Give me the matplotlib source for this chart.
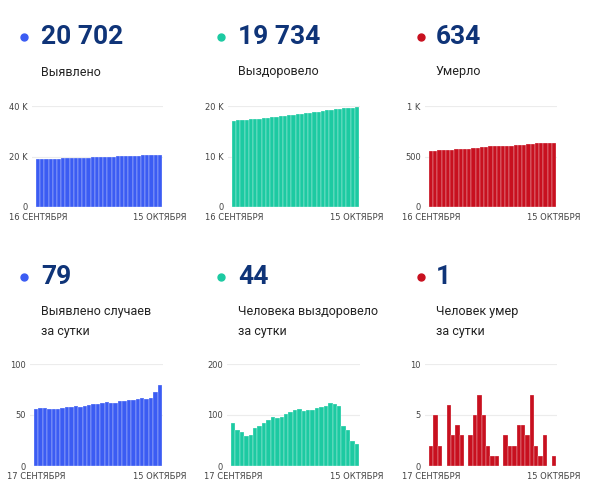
import matplotlib
matplotlib.use("Agg")
import matplotlib.pyplot as plt
from matplotlib.lines import Line2D

W, H = 592, 496

# cumulative, 16 Sep .. 15 Oct
cum_cases = [18908, 18964, 19021, 19078, 19134, 19190, 19246, 19303, 19361, 19419,
             19478, 19536, 19595, 19655, 19716, 19777, 19839, 19902, 19964, 20026,
             20090, 20154, 20219, 20284, 20350, 20417, 20483, 20550, 20623, 20702]
cum_recovered = [17072, 17157, 17227, 17293, 17351, 17412, 17487, 17566, 17650, 17740,
                 17836, 17930, 18027, 18129, 18235, 18344, 18455, 18563, 18673, 18783,
                 18896, 19011, 19129, 19252, 19373, 19490, 19569, 19640, 19690, 19734]
cum_deaths = [553, 555, 560, 562, 562, 568, 571, 575, 578, 578,
              581, 586, 593, 598, 600, 601, 602, 602, 605, 607,
              609, 613, 617, 620, 627, 629, 630, 633, 633, 634]

# daily, 17 Sep .. 15 Oct
day_cases = [56, 57, 57, 56, 56, 56, 57, 58, 58, 59, 58, 59, 60, 61, 61,
             62, 63, 62, 62, 64, 64, 65, 65, 66, 67, 66, 67, 73, 79]
day_recovered = [85, 70, 66, 58, 61, 75, 79, 84, 90, 96, 94, 97, 102, 106, 109,
                 111, 108, 110, 110, 113, 115, 118, 123, 121, 117, 79, 71, 50, 44]
day_deaths = [2, 5, 2, 0, 6, 3, 4, 3, 0, 3, 5, 7, 5, 2, 1,
              1, 0, 3, 2, 2, 4, 4, 3, 7, 2, 1, 3, 0, 1]

big_numbers = ["20 702", "19 734", "634", "79", "44", "1"]
captions = ["Выявлено", "Выздоровело", "Умерло",
            "Выявлено случаев\nза сутки", "Человека выздоровело\nза сутки", "Человек умер\nза сутки"]
cum_dates = ["16 СЕНТЯБРЯ", "15 ОКТЯБРЯ"]
day_dates = ["17 СЕНТЯБРЯ", "15 ОКТЯБРЯ"]

blue, green, red = "#3b5cf3", "#1ccaa2", "#c8101f"
navy = "#0f3478"

fig = plt.figure(figsize=(W / 100, H / 100), dpi=100)


def fx(px):
    return px / W


def fy(py):
    return 1 - py / H


def header(x_dot, x_txt, y_num, y_lab, color, number, caption):
    fig.add_artist(Line2D([fx(x_dot)], [fy(y_num)], marker="o", markersize=5,
                          color=color, transform=fig.transFigure))
    fig.text(fx(x_txt), fy(y_num), number, fontsize=19, fontweight="bold",
             family="Roboto", color=navy, va="center", ha="left")
    for i, line in enumerate(caption.split("\n")):
        fig.text(fx(x_txt), fy(y_lab + i * 19), line, fontsize=9,
                 family="Roboto", color="#222222", va="center", ha="left")


def chart(values, color, bar_l, bar_r, top, bottom, ymax, yticks, ylabels, dates):
    n = len(values)
    per = (bar_r - bar_l) / n
    ax = fig.add_axes([fx(bar_l - 4), fy(bottom), fx(bar_r + 1 - (bar_l - 4)),
                       (bottom - top) / H])
    ax.bar(range(n), values, width=1.0, color=color, edgecolor=(1, 1, 1, 0.6),
           linewidth=0.35, zorder=2)
    ax.set_xlim(-0.5 - 4 / per, n - 0.5 + 1 / per)
    ax.set_ylim(0, ymax)
    ax.set_yticks(yticks)
    ax.set_yticklabels(ylabels)
    ax.set_xticks([0, n - 1])
    ax.set_xticklabels(dates)
    ax.grid(axis="y", color="#ececec", linewidth=0.8, zorder=0)
    for s in ax.spines.values():
        s.set_visible(False)
    ax.tick_params(length=0, labelsize=6, labelcolor="#444444", pad=3)
    ax.tick_params(axis="x", pad=4)
    return ax


colors = [blue, green, red]
xs_dot = [24, 221, 421]
xs_txt = [41, 238, 436]
for i in range(3):
    header(xs_dot[i], xs_txt[i], 37, 72, colors[i], big_numbers[i], captions[i])
    header(xs_dot[i], xs_txt[i], 277, 312, colors[i], big_numbers[i + 3], captions[i + 3])

chart(cum_cases, blue, 36, 162, 106, 207, 40000, [0, 20000, 40000], ["0", "20 K", "40 K"], cum_dates)
chart(cum_recovered, green, 232, 359, 106, 207, 20000, [0, 10000, 20000], ["0", "10 K", "20 K"], cum_dates)
chart(cum_deaths, red, 429, 556, 106, 207, 1000, [0, 500, 1000], ["0", "500", "1 K"], cum_dates)
chart(day_cases, blue, 34, 162, 364, 466, 100, [0, 50, 100], ["0", "50", "100"], day_dates)
chart(day_recovered, green, 231, 359, 364, 466, 200, [0, 100, 200], ["0", "100", "200"], day_dates)
chart(day_deaths, red, 429, 556, 364, 466, 10, [0, 5, 10], ["0", "5", "10"], day_dates)

fig.savefig("out.png", dpi=100)
